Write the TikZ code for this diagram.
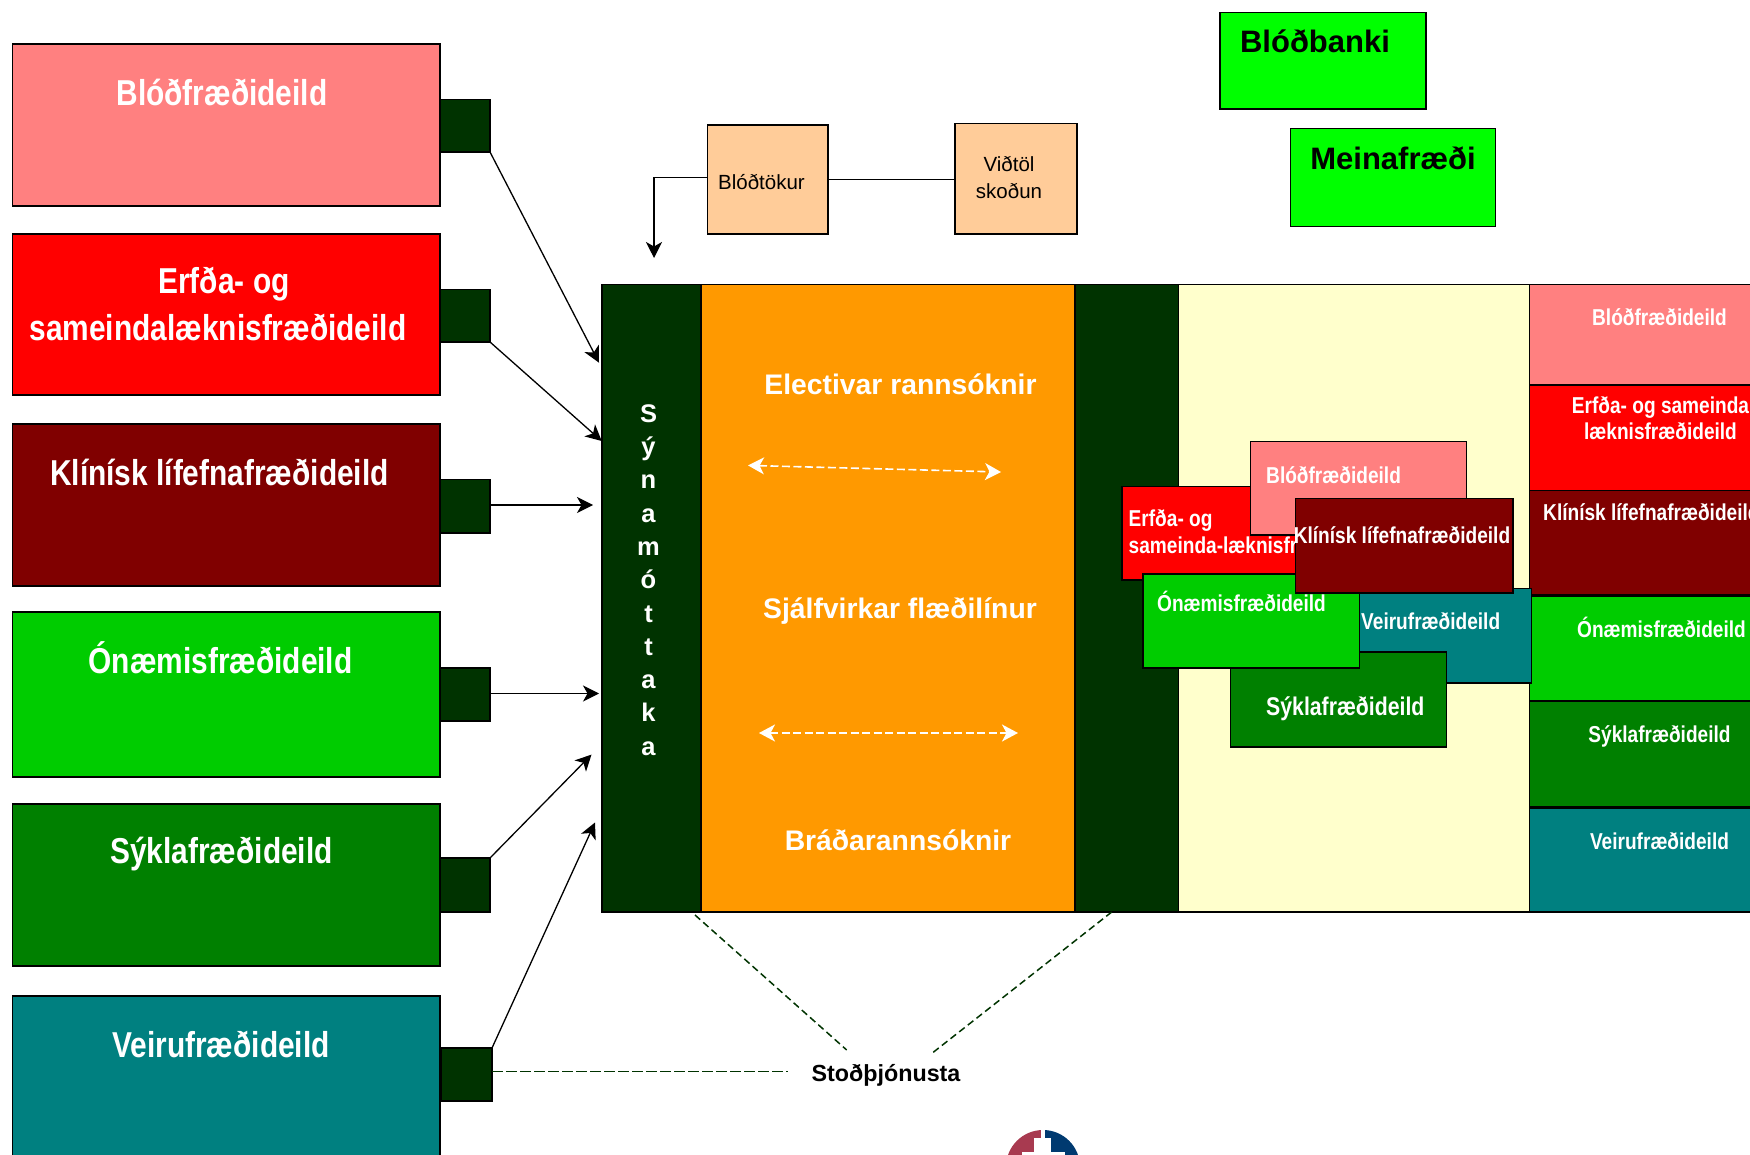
\documentclass[tikz,border=0pt]{standalone}
\usepackage{fontspec}
\usetikzlibrary{arrows.meta}
\setmainfont{Liberation Sans}
\newfontfamily\condf[FakeStretch=0.83]{Liberation Sans}
\definecolor{cpink}{HTML}{FF8080}
\definecolor{cred}{HTML}{FF0000}
\definecolor{cmaroon}{HTML}{800000}
\definecolor{cgreen}{HTML}{00CC00}
\definecolor{cdgreen}{HTML}{008000}
\definecolor{cteal}{HTML}{008080}
\definecolor{cdark}{HTML}{003300}
\definecolor{corange}{HTML}{FF9900}
\definecolor{cyellow}{HTML}{FFFFCC}
\definecolor{cpeach}{HTML}{FFCC99}
\definecolor{clime}{HTML}{00FF00}
\definecolor{clogor}{HTML}{A83A50}
\definecolor{clogob}{HTML}{003A70}
\tikzset{
  boxed/.style={draw=black,line width=1.3pt,inner sep=0pt,outer sep=0pt},
  head/.style={inner sep=0pt,text=white,font=\condf\bfseries\fontsize{36}{47}\selectfont,align=center},
  small/.style={inner sep=0pt,text=white,font=\condf\bfseries\fontsize{23}{26}\selectfont,align=center},
  mid/.style={inner sep=0pt,text=white,font=\bfseries\fontsize{28.3}{32}\selectfont},
  peachtxt/.style={inner sep=0pt,font=\fontsize{20.5}{27}\selectfont,align=center},
  limetxt/.style={inner sep=0pt,font=\bfseries\fontsize{31}{36}\selectfont},
  arrowline/.style={line width=1.3pt,-{Stealth[length=16pt,width=16pt,inset=4.5pt]}},
  whitearrow/.style={white,line width=1.6pt,dash pattern=on 8pt off 3.5pt,{Stealth[length=16pt,width=17pt,inset=4.5pt]}-{Stealth[length=16pt,width=17pt,inset=4.5pt]}},
  supportline/.style={draw=cdark,line width=1.5pt,dash pattern=on 7pt off 4pt}
}
\newcommand{\bx}[7][boxed]{%
  \node[#1,fill=#7,minimum width={(#4-#2)*1pt},minimum height={(#5-#3)*1pt}] (#6) at ({(#2+#4)/2},{(#3+#5)/2}) {};}
\begin{document}
\begin{tikzpicture}[x=1pt,y=-1pt]
\useasboundingbox (0,0) rectangle (1750,1155);
\clip (0,0) rectangle (1750,1155);
% left column
\bx{12.5}{44}{440}{206}{L1}{cpink}
\bx{12.5}{234}{440}{395}{L2}{cred}
\bx{12.5}{424}{440}{586}{L3}{cmaroon}
\bx{12.5}{612}{440}{777}{L4}{cgreen}
\bx{12.5}{804}{440}{966}{L5}{cdgreen}
\bx{12.5}{996}{440}{1200}{L6}{cteal}
\bx{440}{99.5}{490}{152}{S1}{cdark}
\bx{440}{289.5}{490}{342}{S2}{cdark}
\bx{440}{479.5}{490}{533}{S3}{cdark}
\bx{440}{668}{490}{721}{S4}{cdark}
\bx{440}{858}{490}{912}{S5}{cdark}
\bx{441.5}{1048}{492}{1101}{S6}{cdark}
\node[head] (t1) at (222,92) {Blóðfræðideild};
\node[head] (t2a) at (224,284) {Erfða- og};
\node[head] (t2b) at (218,327.5) {sameindalæknisfræðideild};
\node[head] (t3) at (219.5,472) {Klínísk lífefnafræðideild};
\node[head] (t4) at (220.5,658) {Ónæmisfræðideild};
\node[head] (t5) at (221.5,854.5) {Sýklafræðideild};
\node[head] (t6) at (221,1044.5) {Veirufræðideild};
% top boxes
\bx{707.5}{125}{828}{234}{blo}{cpeach}
\bx{955}{123.5}{1077}{234}{vid}{cpeach}
\node[peachtxt] (blot) at (761.5,182.5) {Blóðtökur};
\node[peachtxt] (vidt) at (1009,177.5) {Viðtöl\\skoðun};
\bx{1220}{12.5}{1426}{109}{bank}{clime}
\bx{1290.5}{128.5}{1495.5}{226.5}{mein}{clime}
\node[limetxt] (bankt) at (1315,41.5) {Blóðbanki};
\node[limetxt] (meint) at (1393,158.5) {Meinafræði};
% main band
\bx{602}{284.5}{701}{912}{samp}{cdark}
\bx{701}{284.5}{1075}{912}{lab}{corange}
\bx{1075}{284.5}{1178.5}{912}{dk}{cdark}
\bx{1178.5}{284.5}{1529.5}{912}{yel}{cyellow}
\node[inner sep=0pt,text=white,font=\bfseries\fontsize{25.5}{33.3}\selectfont,align=center] (sam) at (648.5,580) {S\\ý\\n\\a\\m\\ó\\t\\t\\a\\k\\a};
\node[mid] (m1) at (900.5,384.5) {Electivar rannsóknir};
\node[mid] (m2) at (900,611) {Sjálfvirkar flæðilínur};
\node[mid] (m3) at (898,840) {Bráðarannsóknir};
% right column
\bx{1529.5}{284.5}{1800}{385}{R1}{cpink}
\bx{1529.5}{385}{1800}{490.5}{R2}{cred}
\bx{1529.5}{490.5}{1800}{595}{R3}{cmaroon}
\bx{1529.5}{596}{1800}{701}{R4}{cgreen}
\bx{1529.5}{701}{1800}{807}{R5}{cdgreen}
\bx{1529.5}{808}{1800}{912}{R6}{cteal}
\node[small] (rt1) at (1659.5,317) {Blóðfræðideild};
\node[small] (rt2b) at (1660.5,418) {Erfða- og sameinda\\læknisfræðideild};
\node[small,anchor=west] (rt3) at (1543,512) {Klínísk lífefnafræðideild};
\node[small] (rt4) at (1661.5,627) {Ónæmisfræðideild};
\node[small] (rt5) at (1659.5,736.5) {Sýklafræðideild};
\node[small] (rt6) at (1659.5,841) {Veirufræðideild};
% overlapping group
\bx{1122}{486.5}{1338}{580}{r}{cred}
\node[small,anchor=west] (rt) at (1128.5,520.5) {Erfða- og};
\node[small,anchor=west] (rt2) at (1128.5,545) {sameinda-læknisfræðideild};
\bx{1250.5}{441.5}{1466.5}{535}{p}{cpink}
\node[small,anchor=west] (pt) at (1266,475) {Blóðfræðideild};
\bx{1315}{588.5}{1531.5}{683}{v}{cteal}
\node[small,anchor=west] (vt) at (1361,621) {Veirufræðideild};
\bx{1230.5}{652}{1446.5}{747}{y}{cdgreen}
\node[small,anchor=west,font=\condf\bfseries\fontsize{25.6}{28}\selectfont] (yt) at (1266,708.5) {Sýklafræðideild};
\bx{1143}{574}{1359.5}{668}{o}{cgreen}
\node[small,anchor=west] (ot) at (1157,601) {Ónæmisfræðideild};
\bx{1295.5}{498.5}{1513}{593}{k}{cmaroon}
\node[small] (kt) at (1402,535) {Klínísk lífefnafræðideild};
% connectors
\coordinate (a1) at (599,362.7);
\coordinate (a2) at (601.7,441);
\coordinate (a3) at (593,505);
\coordinate (a4) at (599,693.5);
\coordinate (a5) at (591.5,754.6);
\coordinate (a6) at (595,822.5);
\coordinate (a7) at (654,258);
\draw[arrowline] (S1.south east) -- (a1);
\draw[arrowline] (S2.south east) -- (a2);
\draw[arrowline] (S3.east |- a3) -- (a3);
\draw[arrowline] (S4.east |- a4) -- (a4);
\draw[arrowline] (S5.north east) -- (a5);
\draw[arrowline] (S6.north east) -- (a6);
\draw[line width=1.5pt] (blo.east) -- (blo.east -| vid.west);
\draw[arrowline] ([yshift=1.7pt]blo.west) -| (a7);
\node[inner sep=0pt,font=\bfseries\fontsize{23.3}{26}\selectfont] (stod) at (886,1075) {Stoðþjónusta};
\coordinate (d1) at (788,1071.5);
\coordinate (d2) at (846.7,1050);
\coordinate (d3) at (932.7,1052.7);
\coordinate (d1s) at (695,915);
\coordinate (d3s) at (1111.7,912);
\draw[supportline,dash pattern=on 11pt off 3pt] (S6.east |- d1) -- (d1);
\draw[supportline] (d1s) -- (d2);
\draw[supportline] (d3s) -- (d3);
\coordinate (w1a) at (748,465.4);
\coordinate (w1b) at (1001,472);
\coordinate (w2a) at (759,733);
\coordinate (w2b) at (1018,733);
\draw[whitearrow] (w1a) -- (w1b);
\draw[whitearrow] (w2a) -- (w2b);
% logo
\begin{scope}
\clip (1043,1167) circle [radius=37];
\fill[clogor] (1000,1125) rectangle (1040.5,1160);
\fill[clogob] (1045,1125) rectangle (1090,1160);
\fill[white] (1034,1138) rectangle (1051,1160);
\fill[white] (1022,1152) rectangle (1065,1160);
\end{scope}
\end{tikzpicture}
\end{document}
